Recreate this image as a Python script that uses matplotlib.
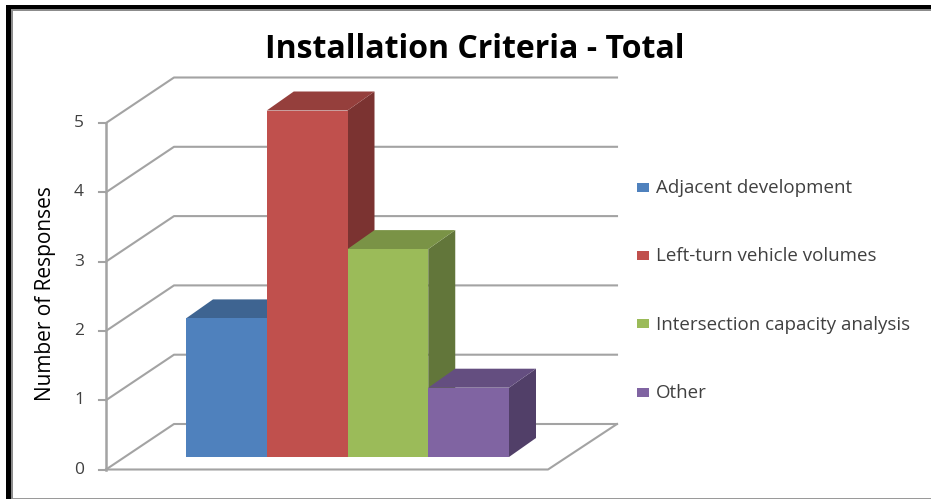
import numpy as np
import matplotlib
matplotlib.use('Agg')
import matplotlib.pyplot as plt
from matplotlib.patches import Polygon, Rectangle

plt.rcParams['font.family'] = ['Open Sans', 'DejaVu Sans']

title = 'Installation Criteria - Total'
ylabel = 'Number of Responses'
categories = ['Adjacent development', 'Left-turn vehicle volumes',
              'Intersection capacity analysis', 'Other']
values = [2, 5, 3, 1]
yticks = [0, 1, 2, 3, 4, 5]

front = ['#4f81bd', '#c0504d', '#9bbb59', '#8064a2']
top = ['#3e6491', '#953f3c', '#7a9346', '#644e80']
side = ['#2f4f75', '#7b3331', '#62763a', '#513f68']
grid_col = '#a3a3a3'

W, H = 931, 499
px_x = 80.75    # pixels per bar
px_y = 69.3     # pixels per response
x0_px, y0_px = 186, 457

fig = plt.figure(figsize=(W / 100, H / 100), dpi=100)
ax = fig.add_axes([0, 0, 1, 1])
ax.set_xlim(-x0_px / px_x, (W - x0_px) / px_x)
ax.set_ylim((y0_px - H) / px_y, y0_px / px_y)
ax.axis('off')


def dx(p):
    return p / px_x


def dy(p):
    return p / px_y


# walls and floor
fl_x = dx(106 - x0_px)      # front left corner
fl_y = dy(y0_px - 469.5)
bx, by = dx(68), dy(45.5)   # depth of the box
wall_w = dx(443)
for v in yticks:
    ax.plot([fl_x, fl_x + bx, fl_x + bx + wall_w],
            [fl_y + v, fl_y + v + by, fl_y + v + by],
            color=grid_col, lw=1.5, zorder=1)
    ax.plot([fl_x - dx(7), fl_x], [fl_y + v, fl_y + v], color=grid_col, lw=1.5, zorder=1)
    ax.text(fl_x - dx(27), fl_y + v, str(v), ha='center', va='center',
            fontsize=12.5, color='#404040', zorder=5)
ax.plot([fl_x, fl_x], [fl_y, fl_y + yticks[-1]], color=grid_col, lw=1.8, zorder=1)
ax.plot([fl_x, fl_x + wall_w - dx(1), fl_x + wall_w + bx],
        [fl_y, fl_y, fl_y + by], color=grid_col, lw=1.5, zorder=1)

# bars
bar_dx, bar_dy = dx(27), dy(19)
for i, v in enumerate(values):
    ax.add_patch(Polygon([(i + 1, 0), (i + 1 + bar_dx, bar_dy),
                          (i + 1 + bar_dx, v + bar_dy), (i + 1, v)],
                         fc=side[i], ec='none', zorder=2 + i))
    ax.add_patch(Polygon([(i, v), (i + bar_dx, v + bar_dy),
                          (i + 1 + bar_dx, v + bar_dy), (i + 1, v)],
                         fc=top[i], ec='none', zorder=2 + i))
    ax.bar(i, v, width=1, align='edge', color=front[i], zorder=2 + i)

ax.text(dx(475 - x0_px), dy(y0_px - 49.5), title, ha='center', va='center',
        fontsize=23, fontweight='bold', color='black')
ax.text(dx(46 - x0_px), dy(y0_px - 294), ylabel, ha='center', va='center',
        rotation=90, fontsize=15, fontweight='medium', color='black')

# legend
leg_y = [187, 255, 323.5, 392]
for name, c, ly in zip(categories, front, leg_y):
    ax.add_patch(Rectangle((dx(637 - x0_px), dy(y0_px - ly - 4.5)), dx(12), dy(9),
                           fc=c, ec='none', zorder=5))
    ax.text(dx(656 - x0_px), dy(y0_px - ly - 1), name, ha='left', va='center',
            fontsize=13.5, color='#404040', zorder=5)

# picture frame
fig.add_artist(Rectangle((6, H - 9), W - 6, 4, transform=None, fc='black', ec='none'))
fig.add_artist(Rectangle((6, 0), 5, H - 5, transform=None, fc='black', ec='none'))
fig.add_artist(Rectangle((11, H - 11), W - 11, 2, transform=None, fc='#8c8c8c', ec='none'))
fig.add_artist(Rectangle((11, 0), 2, H - 9, transform=None, fc='#8c8c8c', ec='none'))
fig.add_artist(Rectangle((13, 0), W - 13, 1.5, transform=None, fc='#9a9a9a', ec='none'))

fig.savefig('out.png', dpi=100)
